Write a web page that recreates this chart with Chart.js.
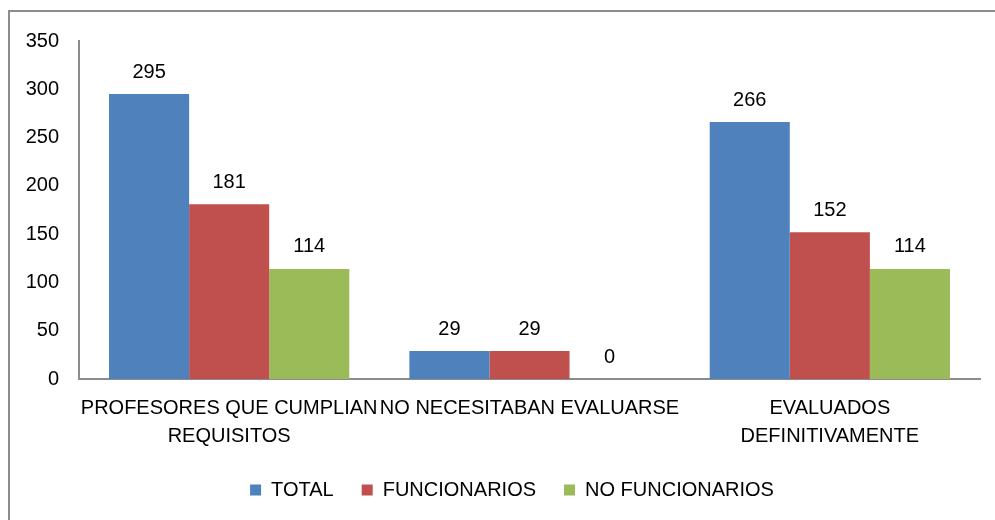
<!DOCTYPE html>
<html>
<head>
<meta charset="utf-8">
<script src="https://cdn.jsdelivr.net/npm/chart.js@4/dist/chart.umd.min.js"></script>
<style>
    html, body { margin: 0; padding: 0; background: #fff; overflow: hidden; }
    #wrap { position: relative; width: 995px; height: 520px; overflow: hidden; }
    #frame {
        position: absolute; left: 8px; top: 10px; width: 1000px; height: 520px;
        border-top: 2px solid #8c8c8c; border-left: 2px solid #8c8c8c;
    }
    canvas { position: absolute; left: 0; top: 0; }
</style>
</head>
<body>
<div id="wrap">
    <div id="frame"></div>
    <canvas id="chart" width="995" height="520"></canvas>
</div>
<script>
// chart data
const categories = [
    ['PROFESORES QUE CUMPLIAN', 'REQUISITOS'],
    'NO NECESITABAN EVALUARSE',
    ['EVALUADOS', 'DEFINITIVAMENTE']
];
const seriesNames = ['TOTAL', 'FUNCIONARIOS', 'NO FUNCIONARIOS'];
const totalValues = [295, 29, 266];
const funcionariosValues = [181, 29, 152];
const noFuncionariosValues = [114, 0, 114];
const seriesColors = ['#4F81BD', '#C0504D', '#9BBB59'];

const FONT = "'Liberation Sans Narrow', 'Arial Narrow', 'Liberation Sans', Arial, sans-serif";

// draws the value above each bar
const valueLabels = {
    id: 'valueLabels',
    afterDatasetsDraw(chart) {
        const ctx = chart.ctx;
        ctx.save();
        ctx.font = '20px ' + FONT;
        ctx.fillStyle = '#000';
        ctx.textAlign = 'center';
        ctx.textBaseline = 'bottom';
        chart.data.datasets.forEach((ds, i) => {
            chart.getDatasetMeta(i).data.forEach((bar, j) => {
                ctx.fillText(ds.data[j], bar.x, bar.y - 12);
            });
        });
        ctx.restore();
    }
};

// legend sits a bit right of the canvas centre in the original
const legendShift = {
    id: 'legendShift',
    afterLayout(chart) {
        if (chart.legend) chart.legend.left += 44;
    }
};

new Chart(document.getElementById('chart'), {
    type: 'bar',
    data: {
        labels: categories,
        datasets: [totalValues, funcionariosValues, noFuncionariosValues].map((vals, i) => ({
            label: seriesNames[i],
            data: vals,
            backgroundColor: seriesColors[i],
            borderWidth: 0,
            categoryPercentage: 0.8,
            barPercentage: 1.0
        }))
    },
    options: {
        responsive: false,
        animation: false,
        layout: { padding: { top: 41, right: 15, left: 0, bottom: 10 } },
        plugins: {
            tooltip: { enabled: false },
            legend: {
                position: 'bottom',
                labels: {
                    boxWidth: 11,
                    boxHeight: 11,
                    padding: 28,
                    color: '#000',
                    font: { family: FONT, size: 20 }
                }
            }
        },
        scales: {
            x: {
                afterFit: (scale) => { scale.height -= 13; },
                grid: { display: false, drawTicks: false },
                border: { display: true, color: '#8c8c8c', width: 2 },
                ticks: {
                    color: '#000',
                    maxRotation: 0,
                    autoSkip: false,
                    padding: 15,
                    font: { family: FONT, size: 20, lineHeight: 1.4 }
                }
            },
            y: {
                min: 0,
                max: 350,
                afterFit: (scale) => { scale.width = 79; },
                grid: { display: false, drawTicks: false },
                border: { display: true, color: '#8c8c8c', width: 2 },
                ticks: {
                    stepSize: 50,
                    color: '#000',
                    padding: 20,
                    font: { family: FONT, size: 20 }
                }
            }
        }
    },
    plugins: [valueLabels, legendShift]
});
</script>
</body>
</html>
